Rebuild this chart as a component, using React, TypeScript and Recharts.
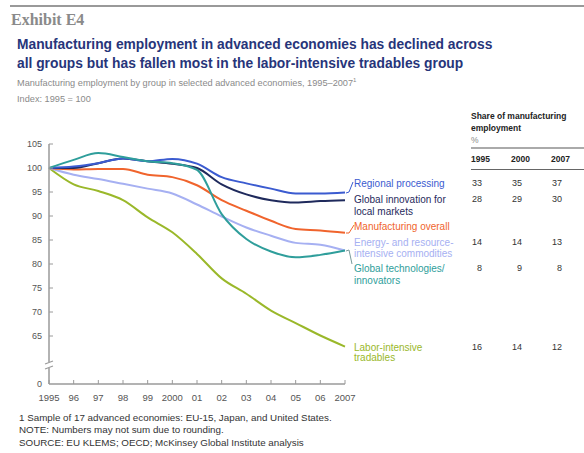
import React from 'react';
import { LineChart, Line, XAxis, YAxis } from 'recharts';

const years = ['1995', '96', '97', '98', '99', '2000', '01', '02', '03', '04', '05', '06', '2007'];

const regionalProcessing = [100, 100.3, 101.0, 102.0, 101.4, 101.9, 100.9, 98.1, 96.8, 95.7, 94.7, 94.7, 94.9];
const globalInnovation = [100, 100.0, 101.0, 102.0, 101.4, 100.9, 100.0, 96.6, 94.5, 93.3, 92.8, 93.1, 93.3];
const manufacturingOverall = [100, 99.7, 99.8, 99.8, 98.6, 98.1, 96.4, 93.3, 91.1, 89.0, 87.3, 87.0, 86.5];
const energyResource = [100, 98.6, 97.7, 96.7, 95.7, 94.7, 92.4, 89.9, 87.6, 85.9, 84.4, 84.0, 82.8];
const globalTech = [100, 101.7, 103.1, 102.3, 101.4, 101.0, 99.6, 90.4, 85.2, 82.6, 81.4, 81.9, 82.8];
const laborIntensive = [100, 96.6, 95.2, 93.3, 89.7, 86.6, 82.1, 77.0, 73.8, 70.3, 67.7, 65.1, 62.8];

// y ticks; the bottom one (55) is shown as "0" below the axis break
const yTicks = [55, 65, 70, 75, 80, 85, 90, 95, 100, 105];

const shareYears = ['1995', '2000', '2007'];
const shareRegional = [33, 35, 37];
const shareInnovation = [28, 29, 30];
const shareEnergy = [14, 14, 13];
const shareTech = [8, 9, 8];
const shareLabor = [16, 14, 12];

const data = years.map((year, i) => ({
  year,
  regional: regionalProcessing[i],
  innovation: globalInnovation[i],
  overall: manufacturingOverall[i],
  energy: energyResource[i],
  tech: globalTech[i],
  labor: laborIntensive[i],
}));

const FONT = 'Arial, "Liberation Sans", sans-serif';
const AXIS = '#9a9a9a';

const C = {
  regional: '#3b5bd0',
  innovation: '#1f2a5c',
  overall: '#f0642d',
  energy: '#a6b0f2',
  tech: '#2f9e9b',
  labor: '#9ab82a',
};

const XTick = (props: any) => {
  const { x, y, payload } = props;
  return (
    <g>
      <line x1={x} x2={x} y1={y - 4} y2={y} stroke={AXIS} strokeWidth={1} />
      <text x={x} y={y + 17} textAnchor="middle" fontSize={9.5} fill="#555" fontFamily={FONT}>
        {payload.value}
      </text>
    </g>
  );
};

const YTick = (props: any) => {
  const { x, y, payload } = props;
  const label = payload.value === 55 ? '0' : String(payload.value);
  return (
    <g>
      {payload.value !== 55 && <line x1={x} x2={x + 4} y1={y} y2={y} stroke={AXIS} strokeWidth={1} />}
      <text x={x - 7} y={y + 3.2} textAnchor="end" fontSize={9} fill="#555" fontFamily={FONT}>
        {label}
      </text>
    </g>
  );
};

const Row = ({ y, values }: { y: number; values: number[] }) => (
  <>
    {values.map((v, i) => (
      <text key={i} x={482 + i * 40} y={y + 3.2} textAnchor="end" fontSize={9} fill="#333">
        {v}
      </text>
    ))}
  </>
);

const App: React.FC = () => {
  return (
    <div style={{ position: 'relative', width: 584, height: 453, background: '#fff', fontFamily: FONT }}>
      <style>{'body{margin:0}'}</style>
      <LineChart
        width={584}
        height={453}
        data={data}
        margin={{ top: 144, right: 239, bottom: 39, left: 9 }}
      >
        <XAxis
          dataKey="year"
          interval={0}
          height={30}
          tickSize={0}
          tickMargin={0}
          tickLine={false}
          axisLine={{ stroke: AXIS, strokeWidth: 1.5 }}
          tick={(p: any) => <XTick {...p} />}
        />
        <YAxis
          type="number"
          domain={[55, 105]}
          ticks={yTicks}
          interval={0}
          width={40}
          tickSize={0}
          tickMargin={0}
          tickLine={false}
          axisLine={{ stroke: AXIS, strokeWidth: 1.5 }}
          tick={(p: any) => <YTick {...p} />}
        />
        <Line dataKey="labor" stroke={C.labor} strokeWidth={2} dot={false} type="monotone" isAnimationActive={false} />
        <Line dataKey="energy" stroke={C.energy} strokeWidth={2} dot={false} type="monotone" isAnimationActive={false} />
        <Line dataKey="overall" stroke={C.overall} strokeWidth={2} dot={false} type="monotone" isAnimationActive={false} />
        <Line dataKey="innovation" stroke={C.innovation} strokeWidth={2} dot={false} type="monotone" isAnimationActive={false} />
        <Line dataKey="regional" stroke={C.regional} strokeWidth={2} dot={false} type="monotone" isAnimationActive={false} />
        <Line dataKey="tech" stroke={C.tech} strokeWidth={2} dot={false} type="monotone" isAnimationActive={false} />
      </LineChart>

      <svg
        width={584}
        height={453}
        style={{ position: 'absolute', left: 0, top: 0, pointerEvents: 'none' }}
        fontFamily={FONT}
      >
        {/* header */}
        <line x1={10} x2={584} y1={6} y2={6} stroke="#999" strokeWidth={2} />
        <text x={11} y={25} fontSize={16} fontWeight="bold" fill="#8a8a8a" fontFamily='"Liberation Serif", serif'>
          Exhibit E4
        </text>
        <text x={17} y={49} fontSize={13.8} fontWeight="bold" fill="#27357a">
          Manufacturing employment in advanced economies has declined across
        </text>
        <text x={17} y={68} fontSize={13.8} fontWeight="bold" fill="#27357a">
          all groups but has fallen most in the labor-intensive tradables group
        </text>
        <text x={17} y={85.5} fontSize={9.2} fill="#8a8a8a">
          Manufacturing employment by group in selected advanced economies, 1995–2007
          <tspan fontSize={6} dy={-4}>1</tspan>
        </text>
        <text x={17} y={102} fontSize={9.2} fill="#8a8a8a">
          Index: 1995 = 100
        </text>

        {/* axis break */}
        <rect x={44} y={362} width={10} height={6} fill="#fff" />
        <line x1={45} x2={53} y1={364} y2={361} stroke={AXIS} strokeWidth={1.2} />
        <line x1={45} x2={53} y1={369} y2={366} stroke={AXIS} strokeWidth={1.2} />

        {/* leader lines */}
        <polyline points="346,193 349,192 353,182" fill="none" stroke={C.regional} strokeWidth={1} />
        <polyline points="346,233 349,233 354,225" fill="none" stroke={C.overall} strokeWidth={1} />
        <polyline points="346,251 349,250 352,264" fill="none" stroke="#7a9a9a" strokeWidth={1} />

        {/* series labels */}
        <g fontSize={10}>
          <text x={354} y={186.5} fill={C.regional}>Regional processing</text>
          <text x={354} y={202.5} fill={C.innovation}>Global innovation for</text>
          <text x={354} y={214.5} fill={C.innovation}>local markets</text>
          <text x={354} y={229.5} fill={C.overall}>Manufacturing overall</text>
          <text x={354} y={245.5} fill={C.energy}>Energy- and resource-</text>
          <text x={354} y={256.5} fill={C.energy}>intensive commodities</text>
          <text x={354} y={271.5} fill={C.tech}>Global technologies/</text>
          <text x={354} y={283.5} fill={C.tech}>innovators</text>
          <text x={354} y={350.5} fill={C.labor}>Labor-intensive</text>
          <text x={354} y={361} fill={C.labor}>tradables</text>
        </g>

        {/* share table */}
        <g fontSize={8.5} fontWeight="bold" fill="#222">
          <text x={471} y={119}>Share of manufacturing</text>
          <text x={471} y={131}>employment</text>
        </g>
        <text x={471} y={143} fontSize={8.5} fill="#888">%</text>
        <line x1={471} x2={584} y1={148} y2={148} stroke="#aaa" strokeWidth={2} />
        {shareYears.map((yr, i) => (
          <text key={yr} x={471 + i * 40} y={162} fontSize={8.5} fontWeight="bold" fill="#222">
            {yr}
          </text>
        ))}
        <line x1={471} x2={584} y1={169.5} y2={169.5} stroke="#666" strokeWidth={1} />
        <Row y={183} values={shareRegional} />
        <Row y={199} values={shareInnovation} />
        <Row y={242} values={shareEnergy} />
        <Row y={268} values={shareTech} />
        <Row y={347} values={shareLabor} />

        {/* footnotes */}
        <g fontSize={9.8} fill="#333">
          <text x={19} y={421}>1  Sample of 17 advanced economies: EU-15, Japan, and United States.</text>
          <text x={19} y={433}>NOTE: Numbers may not sum due to rounding.</text>
          <text x={19} y={445.5}>SOURCE: EU KLEMS; OECD; McKinsey Global Institute analysis</text>
        </g>
      </svg>
    </div>
  );
};

export default App;
